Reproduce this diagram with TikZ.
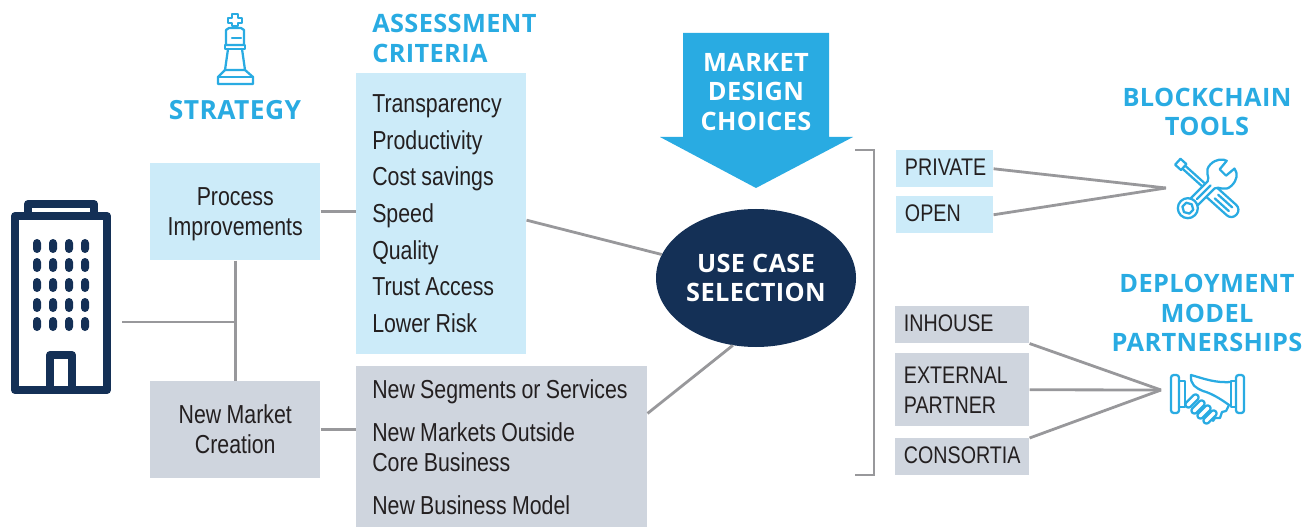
\documentclass[tikz,border=0pt]{standalone}
\usepackage{fontspec}
\setmainfont{Liberation Sans}
\newfontfamily\headfont[LetterSpace=1.5]{Open Sans}
\newfontfamily\bodyfont[FakeStretch=0.82,WordSpace=0.9]{Liberation Sans}
\usetikzlibrary{shapes.geometric}
\usetikzlibrary{positioning}
\definecolor{skyhead}{RGB}{41,171,226}
\definecolor{navyfill}{RGB}{20,48,86}
\definecolor{paleblue}{RGB}{204,235,249}
\definecolor{palegrey}{RGB}{207,213,222}
\definecolor{linkgrey}{RGB}{152,152,155}
\definecolor{inkblack}{RGB}{35,31,32}
\tikzset{
  linkline/.style={draw=linkgrey,line width=2.1pt},
  boxnode/.style={anchor=north west,inner sep=0pt,text=inkblack,font=\bodyfont\fontsize{19.5}{22.5}\selectfont},
  bluebox/.style={boxnode,fill=paleblue},
  greybox/.style={boxnode,fill=palegrey},
  capsbox/.style={align=flush left,inner xsep=6.5pt,font=\bodyfont\fontsize{18}{22.5}\selectfont},
  headnode/.style={inner sep=0pt,align=center,text=skyhead,font=\headfont\bfseries\fontsize{19}{22.4}\selectfont},
  whitenode/.style={inner sep=0pt,align=center,text=white,font=\headfont\bfseries\fontsize{19}{22.4}\selectfont},
  iconline/.style={draw=skyhead,line width=1.7pt,line cap=round,line join=round},
  bldgline/.style={draw=navyfill,line width=6pt,line join=round},
}
\begin{document}
\begin{tikzpicture}[x=0.75pt,y=0.75pt,yscale=-1,xscale=1]
        \useasboundingbox (0,0) rectangle (1312,527);

        % Text Node
        \node [headnode,font=\headfont\bfseries\fontsize{19.8}{22.4}\selectfont] (strategyhead) at (235,110) {STRATEGY};
        \node [headnode,anchor=north west,align=left] (criteriahead) at (372,14) {ASSESSMENT\\CRITERIA};
        \node [headnode] (toolshead) at (1207,112) {BLOCKCHAIN\\TOOLS};
        \node [headnode] (deployhead) at (1207,313) {DEPLOYMENT\\MODEL\\PARTNERSHIPS};

        %Shape: Boxes
        \node [bluebox,minimum width=170*0.75pt,minimum height=97*0.75pt,align=center,text depth=0.5pt] (process) at (150,163) {Process\\Improvements};
        \node [greybox,minimum width=170*0.75pt,minimum height=97*0.75pt,align=center,text depth=0.5pt] (market) at (150,381) {New Market\\Creation};
        \node [bluebox,text width=138*0.75pt,minimum height=281*0.75pt,inner xsep=12pt,align=flush left,font=\bodyfont\fontsize{19.5}{27.45}\selectfont] (criteria) at (356,73)
          {Transparency\\Productivity\\Cost savings\\Speed\\Quality\\Trust Access\\Lower Risk};
        \node [greybox,text width=259*0.75pt,minimum height=161*0.75pt,inner xsep=12pt,align=flush left] (segments) at (356,366)
          {\mbox{New Segments or Services}\\[9.75pt]New Markets Outside\\Core Business\\[9.75pt]New Business Model};
        \node [bluebox,capsbox,text width=79.7*0.75pt,minimum height=37*0.75pt,text depth=2.5pt] (private) at (896,150) {PRIVATE};
        \node [bluebox,capsbox,text width=79.7*0.75pt,minimum height=37*0.75pt,text depth=2.5pt] (open) at (896,196) {OPEN};
        \node [greybox,capsbox,text width=116.7*0.75pt,minimum height=37*0.75pt,text depth=2.5pt] (inhouse) at (895,306) {INHOUSE};
        \node [greybox,capsbox,text width=116.7*0.75pt,minimum height=73*0.75pt] (external) at (895,353) {EXTERNAL\\PARTNER};
        \node [greybox,capsbox,text width=116.7*0.75pt,minimum height=37*0.75pt,text depth=2.5pt] (consortia) at (895,438) {CONSORTIA};

        %Shape: Ellipse
        \node [ellipse,fill=navyfill,minimum width=200*0.75pt,minimum height=138*0.75pt,whitenode] (usecase) at (756,278) {USE CASE\\SELECTION};

        %Shape: Down Arrow
        \fill [skyhead] (683,33) -- (829,33) -- (829,137) -- (853,137) -- (756,188) -- (660,137) -- (683,137) -- cycle;
        \node [whitenode] (choices) at (756,92) {MARKET\\DESIGN\\CHOICES};

        %Free ends
        \coordinate (bldgend) at (122,322);
        \coordinate (toolsend) at (1166,188);
        \coordinate (dealend) at (1161,390);
        \coordinate (bracktop) at (855,150);
        \coordinate (brackbot) at (855,475);

        %Straight Lines
        \draw [linkline] (process.south) -- (market.north);
        \draw [linkline] (bldgend) -- (bldgend -| process.south);
        \draw [linkline] (process.east) -- (process.east -| criteria.west);
        \draw [linkline] (market.east) -- (market.east -| segments.west);
        \draw [linkline] ([yshift=4.8pt]criteria.east) -- (usecase.166);
        \draw [linkline] ([yshift=-25pt]segments.east) -- (usecase.251);
        \draw [linkline] (bracktop) -- ++(19,0) -- ([xshift=19*0.75pt]brackbot) -- (brackbot);
        \draw [linkline] (private.east) -- (toolsend);
        \draw [linkline] (open.east) -- (toolsend);
        \draw [linkline] (inhouse.south east) -- (dealend);
        \draw [linkline] (external.east) -- (dealend);
        \draw [linkline] (consortia.north east) -- (dealend);

        %Shape: Building
        \draw [bldgline] (15,216) rectangle (107,390);
        \draw [bldgline] (28,216) -- (28,204) -- (94,204) -- (94,216);
        \draw [bldgline] (50,390) -- (50,355) -- (72,355) -- (72,390);
        \foreach \wx in {37,53,69,85} {
          \foreach \wy in {246,265,285,305,324} {
            \fill [navyfill,rounded corners=3pt] (\wx-4,\wy-7) rectangle (\wx+4,\wy+7);
          }
        }

        %Shape: King
        \draw [iconline] (232,14) -- (238,14) -- (238,18) -- (242,18) -- (242,23) -- (238,23) -- (238,26) -- (232,26) -- (232,23) -- (228,23) -- (228,18) -- (232,18) -- cycle;
        \draw [iconline] (229,28) -- (241,28) -- (244,30) -- (244,45) -- (226,45) -- (226,30) -- cycle;
        \draw [iconline] (232,38) -- (241,38);
        \draw [iconline] (225,45) rectangle (245,49);
        \draw [iconline] (228,49) -- (225,70) -- (245,70) -- (242,49);
        \draw [iconline] (225,70) -- (218,77) -- (218,84) -- (253,84) -- (253,77) -- (245,70);
        \draw [iconline] (218,77) -- (253,77);

        %Shape: Screwdriver
        \begin{scope}[shift={(1207.5,188.5)},rotate=42]
          \draw [iconline] (-40,-4) -- (-32,-4) -- (-32,4) -- (-40,4) -- cycle;
          \draw [iconline] (-32,-2) -- (2,-2);
          \draw [iconline] (-32,2) -- (2,2);
          \draw [iconline,rounded corners=5pt] (4,-7) -- (39,-7) -- (39,7) -- (4,7);
          \draw [iconline] (12,-2.5) -- (31,-2.5);
          \draw [iconline] (12,2.5) -- (31,2.5);
        \end{scope}

        %Shape: Wrench
        \begin{scope}[shift={(1205.5,190.5)},rotate=-45]
          \draw [iconline,fill=white] (-16,-5) -- (8,-5) .. controls (13,-6) and (12,-15) .. (22,-15) .. controls (30,-15) and (35,-10) .. (36,-6) -- (25,-5) -- (25,4) -- (36,5) .. controls (35,11) and (30,15) .. (22,15) .. controls (12,15) and (13,6) .. (8,5) -- (-16,5);
          \draw [iconline,fill=white] (-25,0) circle (10);
          \draw [iconline,fill=white] (-30.5,0) -- (-27.7,-5) -- (-22.3,-5) -- (-19.5,0) -- (-22.3,5) -- (-27.7,5) -- cycle;
          \draw [iconline] (-12,0) -- (7,0);
        \end{scope}

        %Shape: Handshake
        \draw [iconline,rounded corners=2pt] (1171,375) rectangle (1179,413);
        \draw [iconline,rounded corners=2pt] (1236,375) rectangle (1244,413);
        \draw [iconline] (1179,381) -- (1185,381) -- (1185,407) -- (1179,407);
        \draw [iconline] (1236,381) -- (1231,381) -- (1231,407) -- (1236,407);
        \draw [iconline] (1191,375) .. controls (1205,379) and (1215,383) .. (1231,382);
        \draw [iconline] (1191,375) .. controls (1190,385) and (1196,388) .. (1203,391) .. controls (1210,393) and (1218,397) .. (1229,405);
        \draw [iconline] (1229,405) -- (1226,411) -- (1222,412) -- (1220,418) -- (1215,418) -- (1213,421);
        \foreach \bx/\by in {1192/401,1198/407,1204/412,1210/417} {
          \draw [iconline,rounded corners=2pt,rotate around={-45:(\bx,\by)}] (\bx-8,\by-3) rectangle (\bx+8,\by+3);
        }
\end{tikzpicture}
\end{document}
